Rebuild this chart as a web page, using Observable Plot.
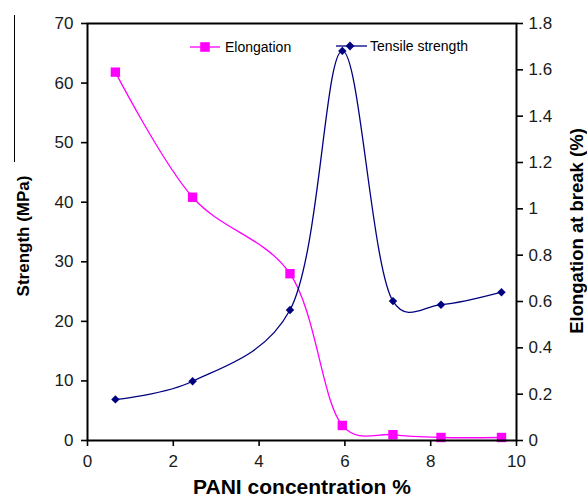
<!DOCTYPE html>
<html><head><meta charset="utf-8">
<script src="https://cdn.jsdelivr.net/npm/d3@7"></script>
<script src="https://cdn.jsdelivr.net/npm/@observablehq/plot@0.6"></script>
<style>
html,body{margin:0;padding:0;background:#fff;}
#wrap{position:relative;width:587px;height:504px;font-family:"Liberation Sans",Arial,sans-serif;}
#wrap svg{display:block;}
.overlay{position:absolute;left:0;top:0;pointer-events:none;}
.artifact{position:absolute;left:14px;top:15px;width:1px;height:147px;background:#000;}
</style></head><body><div id="wrap"></div>
<script>
// Data
const pani = [0.65, 2.45, 4.72, 5.94, 7.12, 8.24, 9.65];
const tensile = [6.9, 9.95, 21.9, 65.4, 23.4, 22.8, 24.9];
const elongation = [1.59, 1.05, 0.72, 0.065, 0.025, 0.013, 0.013];
const xTicks = [0, 2, 4, 6, 8, 10];
const leftTicks = [0, 10, 20, 30, 40, 50, 60, 70];
const rightTicks = [0, 0.2, 0.4, 0.6, 0.8, 1, 1.2, 1.4, 1.6, 1.8];
const seriesNames = ["Elongation", "Tensile strength"];
const colors = ["#ff00ff", "#000080"];

const leftMax = 70, rightMax = 1.8;
const k = leftMax / rightMax;
const tData = pani.map((x, i) => ({x, y: tensile[i]}));
const eData = pani.map((x, i) => ({x, y: elongation[i] * k}));
const smooth = d3.curveCatmullRom.alpha(0.25);

const font = '"Liberation Sans", Arial, sans-serif';
const chart = Plot.plot({
  width: 587, height: 504,
  marginLeft: 87, marginRight: 71, marginTop: 23, marginBottom: 64,
  style: {fontFamily: font, fontSize: "17px", color: "#1a1a1a", background: "white", overflow: "visible"},
  x: {domain: [0, 10]},
  y: {domain: [0, leftMax]},
  marks: [
    Plot.axisX({ticks: xTicks, tickSize: 6, tickPadding: 8, tickFormat: d => String(d), label: null, strokeWidth: 1.6, stroke: "#000"}),
    Plot.axisY({ticks: leftTicks, anchor: "left", tickSize: 6, tickPadding: 8, tickFormat: d => String(d), label: null, strokeWidth: 1.6, stroke: "#000"}),
    Plot.axisY(rightTicks.map(v => v * k), {anchor: "right", tickSize: 6, tickPadding: 6,
      tickFormat: v => String(+(v / k).toFixed(1)), label: null, strokeWidth: 1.6, stroke: "#000"}),
    Plot.line(eData, {x: "x", y: "y", stroke: colors[0], strokeWidth: 1.3, curve: smooth}),
    Plot.line(tData, {x: "x", y: "y", stroke: colors[1], strokeWidth: 1.3, curve: smooth}),
    Plot.dot(eData, {x: "x", y: "y", symbol: "square", r: 5.3, fill: colors[0], stroke: "none"}),
    Plot.dot(tData, {x: "x", y: "y", symbol: "diamond2", r: 3.8, fill: colors[1], stroke: "none"}),
    Plot.frame({stroke: "#000", strokeWidth: 2}),
    Plot.text(["PANI concentration %"], {frameAnchor: "bottom", dy: 53, fontWeight: "bold", fontSize: 21, fill: "#000"}),
    Plot.text(["Strength (MPa)"], {frameAnchor: "left", dx: -64, dy: 4, rotate: -90, textAnchor: "middle", fontWeight: "bold", fontSize: 17, fill: "#000"}),
    Plot.text(["Elongation at break (%)"], {frameAnchor: "right", dx: 61, dy: -1, rotate: -90, textAnchor: "middle", fontWeight: "bold", fontSize: 18.5, fill: "#000"})
  ]
});
const wrap = document.getElementById("wrap");
wrap.appendChild(chart);

// Legend overlay
const art = document.createElement("div"); art.className = "artifact"; wrap.appendChild(art);
const ov = d3.select(wrap).append("svg").attr("class", "overlay").attr("width", 587).attr("height", 504)
  .style("font-family", font);
const leg = [
  {x0: 190, x1: 220, cx: 205, y: 47, tx: 225, sym: d3.symbolSquare, size: 92},
  {x0: 336, x1: 367, cx: 350, y: 46, tx: 370, sym: d3.symbolDiamond2, size: 50}
];
leg.forEach((l, i) => {
  ov.append("line").attr("x1", l.x0).attr("x2", l.x1).attr("y1", l.y).attr("y2", l.y)
    .attr("stroke", colors[i]).attr("stroke-width", 1.3);
  ov.append("path").attr("d", d3.symbol(l.sym, l.size)()).attr("transform", `translate(${l.cx},${l.y})`)
    .attr("fill", colors[i]);
  ov.append("text").attr("x", l.tx).attr("y", l.y).attr("dy", "0.35em").attr("font-size", 14)
    .attr("fill", "#000").text(seriesNames[i]);
});
</script></body></html>
